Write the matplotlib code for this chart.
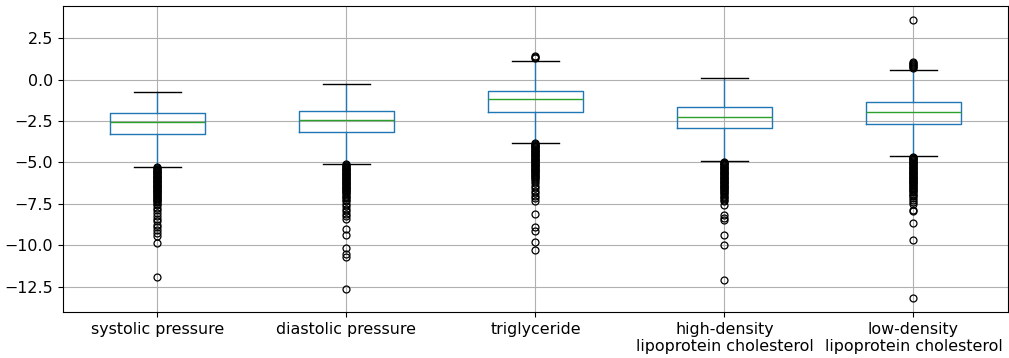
import matplotlib
matplotlib.use('Agg')
import matplotlib.pyplot as plt

# =============================================================================
# Data (standardised values)
# =============================================================================
labels = ['systolic pressure', 'diastolic pressure', 'triglyceride',
          'high-density\nlipoprotein cholesterol', 'low-density\nlipoprotein cholesterol']

q1s     = [-3.29, -3.19, -1.93, -2.95, -2.69]
medians = [-2.55, -2.45, -1.20, -2.23, -1.93]
q3s     = [-2.01, -1.87, -0.68, -1.67, -1.37]
whislo  = [-5.28, -5.10, -3.81, -4.94, -4.64]
whishi  = [-0.72, -0.24, 1.13, 0.10, 0.60]

sys_fliers = [-5.30, -5.35, -5.40, -5.45, -5.50, -5.55, -5.60, -5.65, -5.70, -5.75,
              -5.80, -5.85, -5.90, -5.95, -6.00, -6.05, -6.10, -6.15, -6.20, -6.25,
              -6.30, -6.35, -6.40, -6.45, -6.50, -6.55, -6.60, -6.65, -6.70, -6.75,
              -6.80, -6.85, -6.90, -6.95, -7.00, -7.06, -7.12, -7.18, -7.25, -7.32,
              -7.40, -7.48, -7.60, -7.75, -7.90, -8.05, -8.22, -8.40, -8.55, -8.75,
              -8.92, -9.10, -9.28, -9.45, -9.88, -11.90]
dia_fliers = [-5.12, -5.17, -5.22, -5.27, -5.32, -5.37, -5.42, -5.47, -5.52, -5.57,
              -5.62, -5.67, -5.72, -5.77, -5.82, -5.87, -5.92, -5.97, -6.02, -6.07,
              -6.12, -6.17, -6.22, -6.27, -6.32, -6.37, -6.42, -6.47, -6.52, -6.57,
              -6.62, -6.67, -6.72, -6.78, -6.85, -6.92, -7.00, -7.08, -7.16, -7.25,
              -7.35, -7.53, -7.65, -7.80, -7.95, -8.10, -8.25, -8.40, -9.00, -9.36,
              -10.16, -10.54, -10.70, -12.65]
tri_fliers = [1.31, 1.36, 1.40,
              -3.83, -3.88, -3.93, -3.98, -4.03, -4.08, -4.13, -4.18, -4.23, -4.28,
              -4.33, -4.38, -4.43, -4.48, -4.53, -4.58, -4.63, -4.68, -4.73, -4.78,
              -4.83, -4.88, -4.93, -4.98, -5.03, -5.08, -5.13, -5.18, -5.23, -5.28,
              -5.33, -5.38, -5.43, -5.48, -5.53, -5.58, -5.63, -5.68, -5.74, -5.80,
              -5.87, -5.94, -6.02, -6.10, -6.25, -6.40, -6.55, -6.70, -6.85, -7.00,
              -7.15, -7.30, -8.11, -8.90, -9.14, -9.80, -10.26]
hdl_fliers = [-4.96, -5.01, -5.06, -5.11, -5.16, -5.21, -5.26, -5.31, -5.36, -5.41,
              -5.46, -5.51, -5.56, -5.61, -5.66, -5.71, -5.76, -5.81, -5.86, -5.91,
              -5.96, -6.01, -6.06, -6.11, -6.16, -6.21, -6.26, -6.31, -6.36, -6.41,
              -6.46, -6.51, -6.56, -6.61, -6.66, -6.72, -6.78, -6.85, -6.92, -7.00,
              -7.08, -7.16, -7.25, -7.35, -7.60, -8.20, -8.35, -8.50, -9.38, -10.00,
              -12.09]
ldl_fliers = [0.68, 0.74, 0.80, 0.87, 0.94, 1.00, 1.04, 3.57,
              -4.66, -4.71, -4.76, -4.81, -4.86, -4.91, -4.96, -5.01, -5.06, -5.11,
              -5.16, -5.21, -5.26, -5.31, -5.36, -5.41, -5.46, -5.51, -5.56, -5.61,
              -5.66, -5.71, -5.76, -5.81, -5.86, -5.91, -5.96, -6.01, -6.06, -6.11,
              -6.16, -6.21, -6.26, -6.31, -6.36, -6.41, -6.46, -6.52, -6.58, -6.65,
              -6.72, -6.80, -6.88, -6.96, -7.05, -7.15, -7.25, -7.38, -7.50, -7.90,
              -7.95, -8.63, -9.66, -13.21]
fliers = [sys_fliers, dia_fliers, tri_fliers, hdl_fliers, ldl_fliers]

# =============================================================================
# Box plot (pandas-style colours)
# =============================================================================
stats = []
for i, lab in enumerate(labels):
    stats.append({'label': lab, 'med': medians[i], 'q1': q1s[i], 'q3': q3s[i],
                  'whislo': whislo[i], 'whishi': whishi[i], 'fliers': fliers[i]})

fig = plt.figure(figsize=(10.09, 3.58), dpi=100)
ax = fig.add_axes([0.0624, 0.128, 0.9366, 0.856])

lw = 1.0
ax.bxp(stats, widths=0.5,
       boxprops=dict(color='#1f77b4', linewidth=lw),
       whiskerprops=dict(color='#1f77b4', linewidth=lw),
       medianprops=dict(color='#2ca02c', linewidth=lw),
       capprops=dict(color='black', linewidth=lw),
       flierprops=dict(marker='o', markerfacecolor='none', markeredgecolor='black',
                       markersize=5, markeredgewidth=0.9))

ax.set_xlim(0.5, 5.5)
ax.set_ylim(-14.04, 4.46)
ax.set_yticks([2.5, 0.0, -2.5, -5.0, -7.5, -10.0, -12.5])
ax.grid(True, color='#b0b0b0', linewidth=0.8)
ax.set_axisbelow(True)
ax.tick_params(labelsize=11.4)

plt.savefig('out.png', dpi=100)
